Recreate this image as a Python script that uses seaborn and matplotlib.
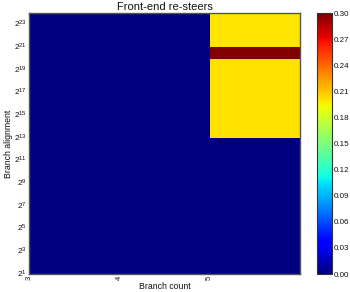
import numpy as np
import pandas as pd
import matplotlib
matplotlib.use("Agg")
import matplotlib.pyplot as plt
import seaborn as sns

# Data
branch_counts = [3, 4, 5]
alignment_exps = list(range(1, 24))  # rows 2^1 .. 2^23
col3 = [0.0] * 23
col4 = [0.0] * 23
col5 = [0.0] * 12 + [0.2015, 0.201, 0.201, 0.2005, 0.2005, 0.2005, 0.2005, 0.30, 0.200, 0.200, 0.200]
ytick_exps = [1, 3, 5, 7, 9, 11, 13, 15, 17, 19, 21, 23]
cbar_ticks = [0.00, 0.03, 0.06, 0.09, 0.12, 0.15, 0.18, 0.21, 0.24, 0.27, 0.30]

sns.set_style("white")
plt.rcParams['font.family'] = ['Liberation Sans', 'DejaVu Sans']
plt.rcParams['mathtext.fontset'] = 'custom'
plt.rcParams['mathtext.rm'] = 'Liberation Sans'
plt.rcParams['mathtext.it'] = 'Liberation Sans'
plt.rcParams['text.color'] = '#111111'
plt.rcParams['axes.labelcolor'] = '#111111'
plt.rcParams['xtick.color'] = '#111111'
plt.rcParams['ytick.color'] = '#111111'

df = pd.DataFrame({b: v for b, v in zip(branch_counts, [col3, col4, col5])},
                  index=[f"2^{e}" for e in alignment_exps])

fig = plt.figure(figsize=(3.5, 2.92), dpi=100)
ax = fig.add_axes([0.083, 0.0616, 0.774, 0.8934])
cax = fig.add_axes([0.905, 0.0616, 0.043, 0.8934])

sns.heatmap(df, ax=ax, cmap="jet", vmin=0, vmax=0.3, cbar_ax=cax,
            cbar_kws={"ticks": cbar_ticks, "format": "%.2f"})
ax.invert_yaxis()

ax.set_yticks([e - 1 for e in ytick_exps])
ax.set_yticklabels([f"$2^{{{e}}}$" for e in ytick_exps], rotation=0, fontsize=6)
ax.set_xticks([0, 1, 2])
ax.set_xticklabels([str(b) for b in branch_counts], rotation=90, fontsize=5.5)
ax.tick_params(direction="in", length=2.5, width=0.5, color="#333333", right=True, top=True,
               left=True, bottom=True, pad=1.5)
for s in ax.spines.values():
    s.set_visible(True)
    s.set_color("#555555")
    s.set_linewidth(1.0)

ax.set_title("Front-end re-steers", fontsize=8, pad=2)
ax.set_xlabel("Branch count", fontsize=6.3, labelpad=1)
ax.set_ylabel("Branch alignment", fontsize=6.3, labelpad=1)

cax.tick_params(labelsize=5.8, direction="in", length=2.5, width=0.5, pad=1.5)
cb = ax.collections[0].colorbar
cb.outline.set_visible(True)
cb.outline.set_edgecolor("#333333")
cb.outline.set_linewidth(0.8)

fig.savefig("out.png", dpi=100)
